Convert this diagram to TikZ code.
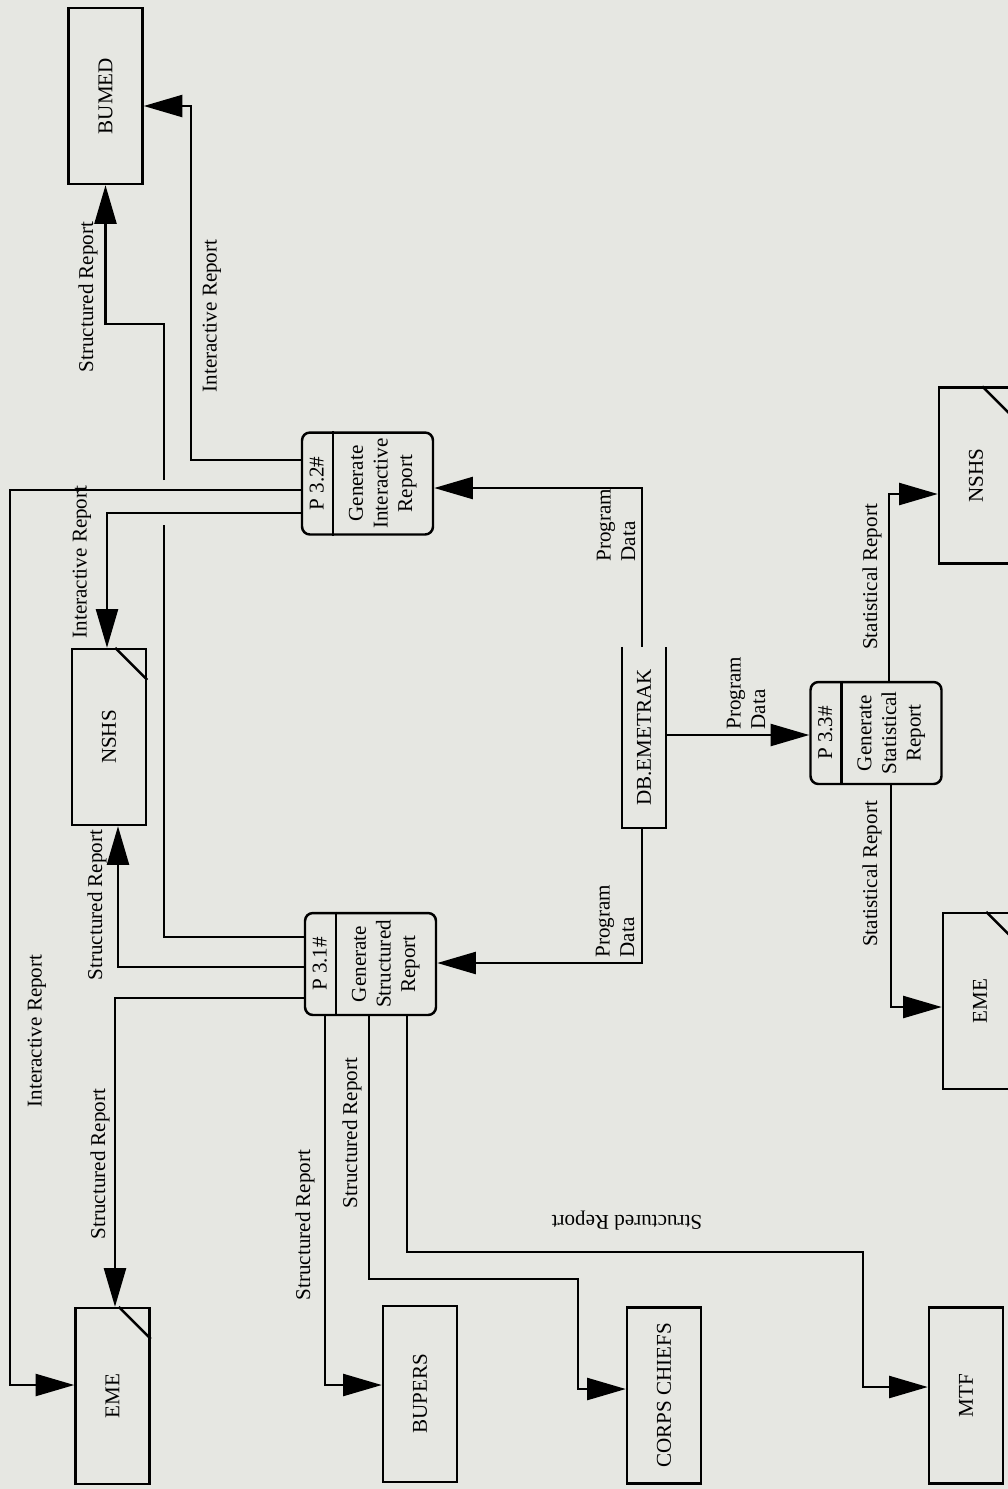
\documentclass[tikz,border=0pt]{standalone}
\usepackage{fontspec}
\setmainfont{Liberation Serif}
\usetikzlibrary{arrows.meta,calc,positioning}
\definecolor{paper}{RGB}{230,231,226}

\begin{document}
\begin{tikzpicture}[x=0.02cm,y=-0.02cm,line width=1.4pt,font=\fontsize{12}{14}\selectfont]
    \tikzset{
        entity/.style={draw,minimum width=1.48cm,minimum height=3.52cm,inner sep=0pt},
        proc/.style={draw,rounded corners=4.5pt,minimum width=2.62cm,minimum height=2.04cm,inner sep=0pt},
        flow/.style={-{Triangle[length=22pt,width=12.5pt]}},
        lbl/.style={rotate=90,inner sep=1pt},}
    \useasboundingbox (0,0) rectangle (1008,1489);
    \fill[paper] (0,0) rectangle (1008,1489);
    \clip (0,0) rectangle (1008,1489);
    % external entities
    \node[entity] (bumed) at (105.5,96) {\rotatebox{90}{BUMED}};
    \node[entity] (nshsA) at (109,737) {\rotatebox{90}{NSHS}};
    \node[entity] (emeA) at (112.5,1396) {\rotatebox{90}{EME}};
    \node[entity] (bupers) at (420,1394) {\rotatebox{90}{BUPERS}};
    \node[entity] (corps) at (664,1395.5) {\rotatebox{90}{CORPS CHIEFS}};
    \node[entity] (mtf) at (966,1395.5) {\rotatebox{90}{MTF}};
    \node[entity] (nshsB) at (976,475.5) {\rotatebox{90}{NSHS}};
    \node[entity] (emeB) at (980,1001) {\rotatebox{90}{EME}};
    \foreach \n in {nshsA,emeA,nshsB,emeB}
        \draw ($(\n.north east)+(-32,0)$) -- ($(\n.north east)+(0,32)$);
    % data store
    \node[minimum width=0.84cm,minimum height=3.58cm,inner sep=0pt] (db) at (644,737.5) {\rotatebox{90}{DB.EMETRAK}};
    \draw (db.north west) -- (db.south west) -- (db.south east) -- (db.north east);
    % processes
    \node[proc] (p32) at (367.5,483.5) {};
    \node[proc] (p31) at (370.5,964) {};
    \node[proc] (p33) at (876,733) {};
    \foreach \p/\id/\name in {p31/3.1/Structured,p32/3.2/Interactive,p33/3.3/Statistical}{
        \draw ($(\p.north west)+(32,0)$) -- ($(\p.south west)+(32,0)$);
        \node[rotate=90,inner sep=0pt] (\p-id) at ($(\p.west)+(16,0)$) {P \id\#};
        \node[rotate=90,inner sep=0pt,align=center] (\p-name) at ($(\p.west)+(82,0)$) {Generate\\\name\\Report};
    }
    % flows out of P 3.1
    \coordinate (jumpA) at (164,525);
    \coordinate (jumpB) at (164,480);
    \draw (p31.west |- 0,937) -| (jumpA);
    \draw[flow] (jumpB) |- (bumed.south |- 0,324) -- (bumed.south);
    \draw[flow] (p31.west |- 0,967) -| (nshsA.south -| 118,0);
    \draw[flow] (p31.west |- 0,998) -| (emeA.north -| 115,0);
    \draw[flow] (p31.south -| 325,0) |- (bupers.west |- 0,1385);
    \draw[flow] (p31.south -| 369,0) |- (578,1279) |- (corps.west |- 0,1389);
    \draw[flow] (p31.south -| 407,0) |- (863,1252) |- (mtf.west |- 0,1387);
    % flows out of P 3.2
    \draw[flow] (p32.west |- 0,460) -| (191,106) -- (bumed.east |- 0,106);
    \draw[flow] (p32.west |- 0,490) -| (10,1385) -- (emeA.west |- 0,1385);
    \draw[flow] (p32.west |- 0,513) -| (nshsA.north -| 107,0);
    % flows out of P 3.3
    \draw[flow] (p33.north -| 889,0) |- (nshsB.west |- 0,494);
    \draw[flow] (p33.south -| 891,0) |- (emeB.west |- 0,1007);
    % flows out of the store
    \draw[flow] (db.south -| 642,0) |- (p31.east |- 0,963);
    \draw[flow] (db.north -| 642,0) |- (p32.east |- 0,488);
    \draw[flow] (db.east |- 0,735) -- (p33.west |- 0,735);
    % labels
    \node[lbl] (lbumedS) at (88,297) {Structured Report};
    \node[lbl] (lbumedI) at (212,316) {Interactive Report};
    \node[lbl] (lnshsI) at (82,562) {Interactive Report};
    \node[lbl] (lnshsS) at (97,905) {Structured Report};
    \node[lbl] (lemeI) at (37,1031) {Interactive Report};
    \node[lbl] (lemeS) at (100,1164) {Structured Report};
    \node[lbl] (lbupers) at (305,1225) {Structured Report};
    \node[lbl] (lcorps) at (352,1133) {Structured Report};
    \node[rotate=180,inner sep=1pt] (lmtf) at (627,1221) {Structured Report};
    \node[lbl,align=left] (ldbA) at (615,921) {Program\\Data};
    \node[lbl,align=left] (ldbB) at (616,525) {Program\\Data};
    \node[lbl,align=left] (ldbC) at (746,693) {Program\\Data};
    \node[lbl] (lnshsB) at (872,577) {Statistical Report};
    \node[lbl] (lemeB) at (872,874) {Statistical Report};
\end{tikzpicture}
\end{document}
